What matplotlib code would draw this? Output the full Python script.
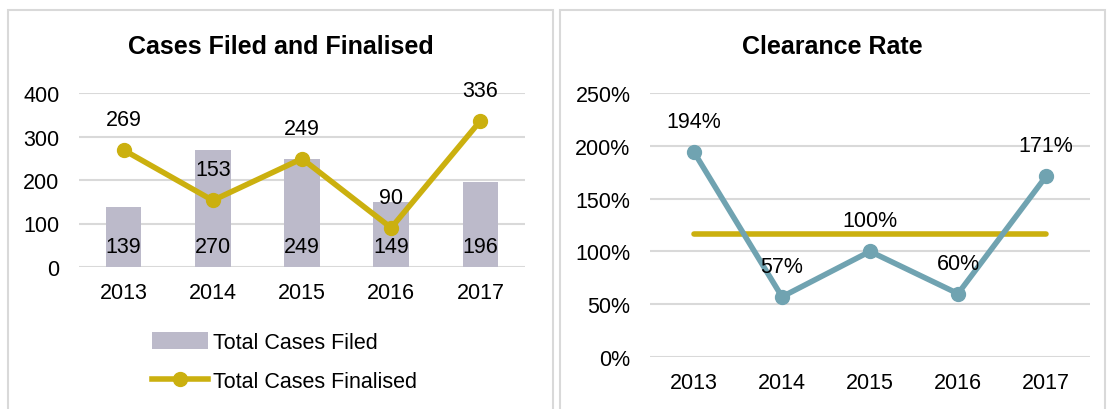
import numpy as np
import matplotlib
matplotlib.use('Agg')
import matplotlib.pyplot as plt
from matplotlib.patches import Rectangle, Patch
from matplotlib.lines import Line2D
from matplotlib.ticker import FuncFormatter

plt.rcParams['font.family'] = ['Liberation Sans', 'DejaVu Sans']

years = ['2013', '2014', '2015', '2016', '2017']
cases_filed = [139, 270, 249, 149, 196]
cases_finalised = [269, 153, 249, 90, 336]
clearance_rate = [194, 57, 100, 60, 171]   # percent
avg_rate = [116.4] * len(years)

bar_col = '#bcbaca'
gold = '#cbb00f'
teal = '#70a3b1'
grid_col = '#d9d9d9'
W, H = 1107, 410
fs = 15.5

fig = plt.figure(figsize=(W / 100, H / 100), dpi=100)

# panel borders
for x0, x1 in [(8, 553), (560, 1105)]:
    fig.patches.append(Rectangle((x0 / W, -0.05), (x1 - x0) / W, 1 - 11 / H + 0.05,
                                 transform=fig.transFigure, fill=False,
                                 edgecolor=grid_col, linewidth=1.5))

x = np.arange(len(years))


def style(ax):
    for s in ax.spines.values():
        s.set_visible(False)
    ax.tick_params(length=0, labelsize=fs)
    ax.tick_params(axis='y', pad=14)
    ax.tick_params(axis='x', pad=11)
    ax.yaxis.grid(True, color=grid_col, linewidth=1.5)
    ax.set_axisbelow(True)
    ax.set_xticks(x)
    ax.set_xticklabels(years)
    ax.set_xlim(-0.5, len(years) - 0.5)


# left: cases filed and finalised
ax1 = fig.add_axes([79 / W, 1 - 268 / H, 446 / W, 174 / H])
style(ax1)
ax1.bar(x, cases_filed, width=0.4, color=bar_col, zorder=2)
ax1.plot(x, cases_finalised, color=gold, linewidth=4, marker='o', markersize=10,
         zorder=3, solid_capstyle='round')
ax1.set_ylim(0, 400)
ax1.set_yticks([0, 100, 200, 300, 400])
for xi, v in zip(x, cases_filed):
    ax1.annotate(str(v), (xi, 0), xytext=(0, 15), textcoords='offset points',
                 ha='center', va='center', fontsize=fs, zorder=4)
for xi, v in zip(x, cases_finalised):
    ax1.annotate(str(v), (xi, v), xytext=(0, 22), textcoords='offset points',
                 ha='center', va='center', fontsize=fs, zorder=4)
fig.text(280.5 / W, 1 - 47 / H, 'Cases Filed and Finalised', fontsize=18,
         fontweight='bold', ha='center', va='center')

handles = [Patch(facecolor=bar_col, edgecolor='none'),
           Line2D([], [], color=gold, linewidth=4, marker='o', markersize=10)]
fig.legend(handles, ['Total Cases Filed', 'Total Cases Finalised'],
           loc='center left', bbox_to_anchor=(152 / W, 1 - 363 / H),
           frameon=False, fontsize=fs, handlelength=2.6, handleheight=0.8,
           handletextpad=0.25, labelspacing=0.85, borderpad=0, borderaxespad=0)

# right: clearance rate
ax2 = fig.add_axes([650 / W, 1 - 358 / H, 440 / W, 264 / H])
style(ax2)
ax2.plot(x, clearance_rate, color=teal, linewidth=4, marker='o', markersize=10,
         zorder=3)
ax2.plot(x, avg_rate, color=gold, linewidth=4, zorder=2, solid_capstyle='round')
ax2.set_ylim(0, 250)
ax2.set_yticks([0, 50, 100, 150, 200, 250])
ax2.yaxis.set_major_formatter(FuncFormatter(lambda v, p: f'{v:.0f}%'))
for xi, v in zip(x, clearance_rate):
    ax2.annotate(f'{v}%', (xi, v), xytext=(0, 22), textcoords='offset points',
                 ha='center', va='center', fontsize=fs, zorder=4)
fig.text(832.5 / W, 1 - 47 / H, 'Clearance Rate', fontsize=18,
         fontweight='bold', ha='center', va='center')

fig.savefig('out.png', dpi=100)
